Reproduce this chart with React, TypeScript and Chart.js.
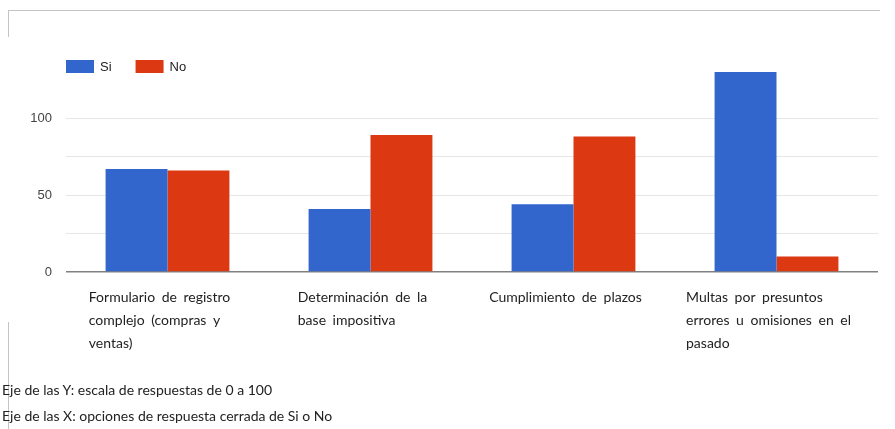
import { useEffect, useRef } from "react";
import { Chart, registerables } from "chart.js";

Chart.register(...registerables);

const categories: string[][] = [
  ["Formulario de registro", "complejo (compras y", "ventas)"],
  ["Determinación de la", "base impositiva"],
  ["Cumplimiento de plazos"],
  ["Multas por presuntos", "errores u omisiones en el", "pasado"],
];
const seriesNames = ["Si", "No"];
const siValues = [67, 41, 44, 130];
const noValues = [66, 89, 88, 10];
const seriesColors = ["#3366CC", "#DC3912"];
const yTickLabels = [0, 50, 100];
const notes = [
  "Eje de las Y: escala de respuestas de 0 a 100",
  "Eje de las X: opciones de respuesta cerrada de Si o No",
];

const W = 895;
const H = 429;

const drawPlugin = {
  id: "customText",
  afterDraw(chart: any) {
    const ctx = chart.ctx as any;
    const xs = chart.scales.x;
    const area = chart.chartArea;
    ctx.save();
    // category labels
    ctx.font = '14px Lato, "Open Sans", sans-serif';
    ctx.fillStyle = "#222";
    ctx.textBaseline = "middle";
    ctx.textAlign = "left";
    if ("wordSpacing" in ctx) ctx.wordSpacing = "3px";
    categories.forEach((lines, i) => {
      const cx = xs.getPixelForValue(i);
      const w = Math.max(...lines.map((l) => ctx.measureText(l).width));
      const left = cx - w / 2 - 8;
      lines.forEach((l, j) => ctx.fillText(l, left, area.bottom + 25 + j * 23));
    });
    if ("wordSpacing" in ctx) ctx.wordSpacing = "0px";
    // legend
    ctx.font = '13px "Liberation Sans", Arial, sans-serif';
    let x = area.left;
    const top = area.top - 12;
    seriesNames.forEach((name, i) => {
      ctx.fillStyle = seriesColors[i];
      ctx.fillRect(x, top, 28, 13);
      ctx.fillStyle = "#222";
      ctx.fillText(name, x + 34, top + 7);
      x += 34 + ctx.measureText(name).width + 24;
    });
    ctx.restore();
  },
};

export default function App() {
  const ref = useRef<HTMLCanvasElement | null>(null);
  useEffect(() => {
    if (!ref.current) return;
    const chart = new Chart(ref.current, {
      type: "bar",
      data: {
        labels: categories.map((c) => c.join(" ")),
        datasets: [
          { label: seriesNames[0], data: siValues, backgroundColor: seriesColors[0], borderWidth: 0 },
          { label: seriesNames[1], data: noValues, backgroundColor: seriesColors[1], borderWidth: 0 },
        ],
      },
      options: {
        animation: false,
        responsive: false,
        devicePixelRatio: 1,
        layout: { padding: { top: 72, left: 0, right: 17, bottom: 0 } },
        datasets: { bar: { categoryPercentage: 0.61, barPercentage: 1 } },
        plugins: { legend: { display: false }, tooltip: { enabled: false } },
        scales: {
          x: {
            grid: { display: false },
            border: { display: false },
            ticks: { display: false },
            afterFit: (s: any) => {
              s.height = 157;
            },
          },
          y: {
            min: 0,
            max: 130,
            border: { display: false },
            afterBuildTicks: (s: any) => {
              s.ticks = s.ticks.filter((t: any) => t.value % 25 === 0);
            },
            afterFit: (s: any) => {
              s.width = 66;
            },
            ticks: {
              stepSize: 25,
              padding: 14,
              color: "#444",
              font: { family: '"Liberation Sans", Arial, sans-serif', size: 13 },
              callback: (v: any) => (yTickLabels.includes(Number(v)) ? String(v) : ""),
            },
            grid: {
              drawTicks: false,
              color: (c: any) => (c.tick && c.tick.value === 0 ? "#808080" : "#e6e6e6"),
              lineWidth: (c: any) => (c.tick && c.tick.value === 0 ? 1.5 : 1),
            },
          },
        },
      },
      plugins: [drawPlugin],
    });
    return () => chart.destroy();
  }, []);

  return (
    <div style={{ position: "fixed", left: 0, top: 0, width: W, height: H, background: "#fff", overflow: "hidden" }}>
      <canvas ref={ref} width={W} height={H} style={{ position: "absolute", left: 0, top: 0, width: W, height: H }} />
      <div style={{ position: "absolute", left: 8, top: 10, width: 872, height: 1, background: "#c4c4c4" }} />
      <div style={{ position: "absolute", left: 8, top: 10, width: 1, height: 27, background: "#c4c4c4" }} />
      <div style={{ position: "absolute", left: 8, top: 322, width: 1, height: 107, background: "#c4c4c4" }} />
      {notes.map((n, i) => (
        <div
          key={i}
          style={{
            position: "absolute",
            left: 2,
            top: 381 + i * 26,
            fontFamily: 'Lato, "Open Sans", sans-serif',
            fontSize: 14,
            lineHeight: "18px",
            color: "#222",
            whiteSpace: "nowrap",
          }}
        >
          {n}
        </div>
      ))}
    </div>
  );
}
